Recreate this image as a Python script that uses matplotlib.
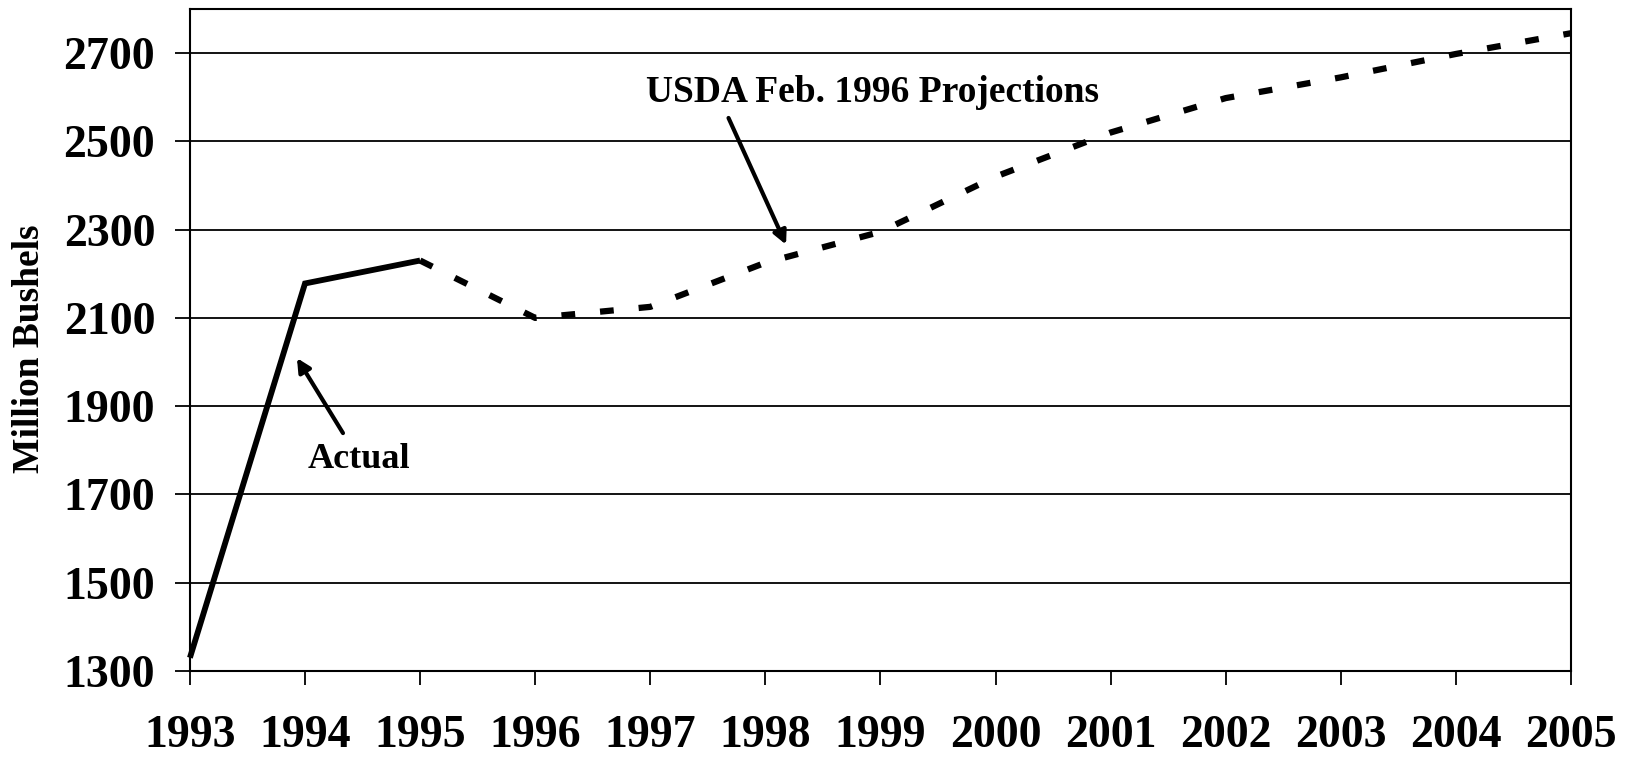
import matplotlib
matplotlib.use('Agg')
import matplotlib.pyplot as plt

# data (million bushels)
years_actual = [1993, 1994, 1995]
actual = [1330, 2178, 2230]

years_proj = [1995, 1996, 1997, 1998, 1999, 2000, 2001, 2002, 2003, 2004, 2005]
proj = [2230, 2100, 2125, 2225, 2295, 2420, 2520, 2598, 2645, 2698, 2745]

x_ticks = list(range(1993, 2006))
y_ticks = [1300, 1500, 1700, 1900, 2100, 2300, 2500, 2700]

plt.rcParams['font.family'] = ['Liberation Serif', 'DejaVu Serif']
plt.rcParams['font.weight'] = 'bold'

fig = plt.figure(figsize=(16.33, 7.58), dpi=100)
ax = fig.add_axes([0.1163, 0.1148, 0.8457, 0.8734])

ax.set_xlim(1993, 2005)
ax.set_ylim(1300, 2800)

# gridlines
for y in y_ticks:
    ax.axhline(y, color='black', lw=1.3, zorder=1)

ax.plot(years_actual, actual, color='black', lw=4.2, solid_capstyle='butt',
        solid_joinstyle='miter', zorder=3, clip_on=False)
ax.plot(years_proj, proj, color='black', lw=4.5, linestyle=(0, (2.2, 4.0)),
        dash_capstyle='butt', zorder=3, clip_on=False)

for s in ax.spines.values():
    s.set_linewidth(1.5)
    s.set_color('black')

ax.set_xticks(x_ticks)
ax.set_xticklabels([str(x) for x in x_ticks], fontsize=33, fontweight='bold')
ax.set_yticks(y_ticks)
ax.set_yticklabels([str(y) for y in y_ticks], fontsize=33, fontweight='bold')
ax.tick_params(axis='x', direction='out', length=10, width=1.3, pad=21.5)
ax.tick_params(axis='y', direction='out', length=11, width=1.3, pad=14)

fig.text(30 / 1633, 1 - 349 / 758, 'Million Bushels', rotation=90,
         ha='center', va='center', fontsize=27, fontweight='bold')

# annotations
ax.text(1998.93, 2589, 'USDA Feb. 1996 Projections', ha='center', va='baseline',
        fontsize=27, fontweight='bold')
ax.annotate('', xy=(1998.18, 2266), xytext=(1997.68, 2553),
            arrowprops=dict(arrowstyle='-|>,head_length=0.8,head_width=0.4',
                            color='black', lw=3, shrinkA=0, shrinkB=0))

ax.text(1994.47, 1760, 'Actual', ha='center', va='baseline',
        fontsize=26, fontweight='bold')
ax.annotate('', xy=(1993.93, 2009), xytext=(1994.33, 1839),
            arrowprops=dict(arrowstyle='-|>,head_length=0.8,head_width=0.4',
                            color='black', lw=3, shrinkA=0, shrinkB=0))

fig.savefig('out.png', dpi=100)
